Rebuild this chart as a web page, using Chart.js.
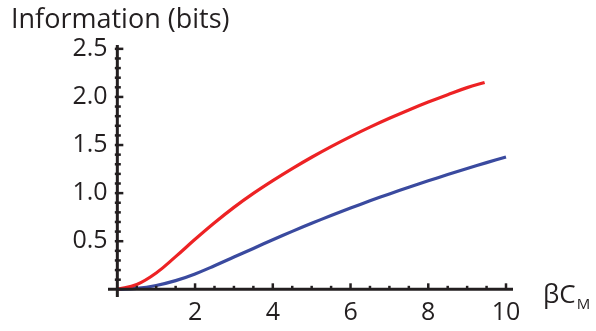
<!DOCTYPE html>
<html>
<head>
<meta charset="utf-8">
<script src="https://cdn.jsdelivr.net/npm/chart.js@4/dist/chart.umd.min.js"></script>
<style>
  html, body { margin: 0; padding: 0; background: #ffffff; }
  #wrap { width: 596px; height: 331px; position: relative; }
</style>
</head>
<body>
<div id="wrap"><canvas id="c" width="596" height="331"></canvas></div>
<script>
// ---- data ----
const redX  = [0, 0.5, 1, 1.5, 2, 2.5, 3, 3.5, 4, 4.5, 5, 5.5, 6, 6.5, 7, 7.5, 8, 8.5, 9, 9.45];
const redY  = [0, 0.05, 0.17, 0.34, 0.52, 0.692, 0.852, 0.997, 1.13, 1.255, 1.373, 1.484, 1.588, 1.686, 1.778, 1.865, 1.947, 2.024, 2.097, 2.15];
const blueX = [0, 0.5, 1, 1.5, 2, 2.5, 3, 3.5, 4, 4.5, 5, 5.5, 6, 6.5, 7, 7.5, 8, 8.5, 9, 9.5, 10];
const blueY = [0, 0.01, 0.04, 0.09, 0.16, 0.245, 0.335, 0.425, 0.515, 0.602, 0.686, 0.767, 0.845, 0.920, 0.992, 1.061, 1.128, 1.193, 1.256, 1.317, 1.376];
const xTickLabels = [2, 4, 6, 8, 10];
const yTickLabels = [0.5, 1.0, 1.5, 2.0, 2.5];
const xMinorStep = 0.5;
const yMinorStep = 0.1;
const yTitle = 'Information (bits)';
const xTitleMain = 'βC';
const xTitleSub = 'M';

const FONT = "'Open Sans', 'DejaVu Sans', sans-serif";
const AXIS = '#231f20';

const toPts = (xs, ys) => xs.map((x, i) => ({ x: x, y: ys[i] }));

const axesPlugin = {
  id: 'mmaAxes',
  afterDatasetsDraw(chart) {
    const ctx = chart.ctx;
    const xs = chart.scales.x, ys = chart.scales.y;
    const ca = chart.chartArea;
    const x0 = xs.getPixelForValue(0);
    const y0 = ys.getPixelForValue(0);
    ctx.save();
    ctx.strokeStyle = AXIS;
    ctx.fillStyle = AXIS;
    ctx.lineWidth = 3;
    ctx.beginPath();
    ctx.moveTo(ca.left, y0); ctx.lineTo(ca.right, y0);
    ctx.moveTo(x0, ca.top); ctx.lineTo(x0, ca.bottom);
    ctx.stroke();
    ctx.lineWidth = 2.5;
    for (let v = xMinorStep; v <= 10.0001; v += xMinorStep) {
      const p = xs.getPixelForValue(v);
      const major = xTickLabels.some(t => Math.abs(t - v) < 1e-6);
      ctx.beginPath();
      ctx.moveTo(p, y0);
      ctx.lineTo(p, y0 - (major ? 6 : 3.5));
      ctx.stroke();
    }
    for (let v = yMinorStep; v <= 2.5001; v += yMinorStep) {
      const p = ys.getPixelForValue(v);
      const major = yTickLabels.some(t => Math.abs(t - v) < 1e-6);
      ctx.beginPath();
      ctx.moveTo(x0 - 2.5, p);
      ctx.lineTo(x0 + (major ? 6 : 3.5), p);
      ctx.stroke();
    }
    ctx.fillStyle = '#231f20';
    ctx.textBaseline = 'alphabetic';
    ctx.textAlign = 'left';
    ctx.font = '27px ' + FONT;
    ctx.fillText(yTitle, 11, 28);
    const tx = 543, ty = 303;
    ctx.font = '26px ' + FONT;
    ctx.fillText(xTitleMain, tx, ty);
    const w = ctx.measureText(xTitleMain).width;
    ctx.font = '15px ' + FONT;
    ctx.fillText(xTitleSub, tx + w + 1, ty + 6);
    ctx.restore();
  }
};

new Chart(document.getElementById('c'), {
  type: 'line',
  data: {
    datasets: [
      { label: 'red', data: toPts(redX, redY), borderColor: '#ed2224', borderWidth: 3.2,
        pointRadius: 0, tension: 0.4, fill: false },
      { label: 'blue', data: toPts(blueX, blueY), borderColor: '#3a4a9f', borderWidth: 3.2,
        pointRadius: 0, tension: 0.4, fill: false }
    ]
  },
  options: {
    responsive: false,
    animation: false,
    devicePixelRatio: 1,
    layout: { padding: { left: 108, right: 83, top: 45, bottom: 34 } },
    plugins: { legend: { display: false }, tooltip: { enabled: false }, title: { display: false } },
    scales: {
      x: {
        type: 'linear', min: -0.24, max: 10.18,
        position: { y: 0 },
        grid: { display: false, drawTicks: false },
        border: { display: false },
        afterBuildTicks: s => { s.ticks = xTickLabels.map(v => ({ value: v })); },
        ticks: { font: { family: FONT, size: 25 }, color: '#231f20', padding: 9,
                 maxRotation: 0, autoSkip: false, callback: v => String(v) }
      },
      y: {
        type: 'linear', min: -0.08, max: 2.54,
        position: { x: -0.25 },
        grid: { display: false, drawTicks: false },
        border: { display: false },
        afterBuildTicks: s => { s.ticks = yTickLabels.map(v => ({ value: v })); },
        ticks: { font: { family: FONT, size: 25 }, color: '#231f20', padding: 0,
                 autoSkip: false, callback: v => Number(v).toFixed(1) }
      }
    }
  },
  plugins: [axesPlugin]
});
</script>
</body>
</html>
